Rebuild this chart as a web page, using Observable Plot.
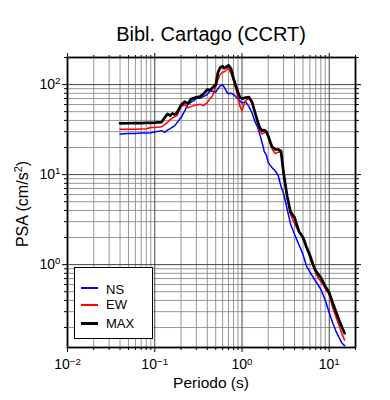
<!DOCTYPE html>
<html>
<head>
<meta charset="utf-8">
<script src="https://cdn.jsdelivr.net/npm/d3@7"></script>
<script src="https://cdn.jsdelivr.net/npm/@observablehq/plot@0.6"></script>
<style>
  body { margin: 0; background: #fff; font-family: 'Liberation Sans', Arial, Helvetica, sans-serif; color: #000; }
  #wrap { position: relative; width: 390px; height: 400px; overflow: hidden; background: #fff; }
  #title { position: absolute; left: 67px; width: 288px; top: 24px; text-align: center; font-size: 20px; line-height: 20px; white-space: nowrap; }
  #chart { position: absolute; left: 0; top: 50px; }
  #xlabel { position: absolute; left: 67px; width: 288px; top: 375px; text-align: center; font-size: 15.5px; line-height: 15.5px; white-space: nowrap; }
  #ylabel { position: absolute; left: -122px; width: 290px; top: 196px; height: 16px; text-align: center; font-size: 16px; line-height: 16px; white-space: nowrap; transform: rotate(-90deg); transform-origin: 50% 50%; }
  #ylabel sup { font-size: 0.68em; line-height: 0; vertical-align: 0.55em; }
  #legend { position: absolute; left: 74px; top: 267px; width: 79px; height: 72px; box-sizing: border-box; border: 1.6px solid #000; background: #fff; }
  .lg-line { position: absolute; left: 6px; width: 17px; }
  .lg-text { position: absolute; left: 31px; font-size: 13px; line-height: 13px; white-space: nowrap; }
</style>
</head>
<body>
<div id="wrap">
  <div id="title"></div>
  <div id="chart"></div>
  <div id="xlabel"></div>
  <div id="ylabel"></div>
  <div id="legend"></div>
</div>
<script>
// ---- Data ----
const titleText = "Bibl. Cartago (CCRT)";
const xLabelText = "Periodo (s)";
const yLabelBase = "PSA (cm/s";
const yLabelSup = "2";
const yLabelEnd = ")";

const periods = [0.04, 0.05, 0.06, 0.07, 0.08, 0.09, 0.1, 0.12, 0.13, 0.14, 0.15, 0.16, 0.17, 0.18,
  0.2, 0.22, 0.24, 0.26, 0.28, 0.3, 0.33, 0.36, 0.4, 0.43, 0.46, 0.5, 0.53, 0.56, 0.6, 0.63, 0.67,
  0.7, 0.75, 0.8, 0.85, 0.9, 0.95, 1.0, 1.1, 1.2, 1.3, 1.4, 1.5, 1.6, 1.7, 1.8, 1.9, 2.0, 2.2, 2.4,
  2.6, 2.8, 3.0, 3.3, 3.6, 4.0, 4.5, 5.0, 5.5, 6.0, 6.5, 7.0, 7.5, 8.0, 9.0, 10, 11, 12, 13, 14, 15];

const psaNS = [28.3, 28.6, 28.7, 28.9, 29.0, 29.1, 29.7, 30.8, 29.5, 31.2, 32.4, 33.7, 35.0, 37.8,
  43.0, 50.7, 60.2, 63.8, 66.3, 70.7, 70.7, 73.4, 77.3, 85.6, 84.5, 82.4, 90.1, 96.0, 99.7, 92.4, 82.4,
  79.3, 80.3, 77.3, 73.4, 68.9, 65.5, 62.5, 64.6, 56.9, 48.8, 39.3, 34.1, 27.8, 22.7, 18.0, 16.5, 13.6, 12.0, 11.0,
  9.77, 7.38, 6.17, 4.10, 2.83, 2.17, 1.66, 1.30, 0.958, 0.828, 0.729, 0.653, 0.590, 0.532, 0.402, 0.292, 0.223, 0.180, 0.154, 0.134, 0.126];

const psaEW = [31.9, 31.9, 32.0, 32.2, 32.4, 33.4, 33.3, 34.1, 35.9, 38.1, 40.8, 42.6, 44.1, 45.2,
  56.9, 59.9, 55.4, 56.9, 58.4, 59.4, 60.6, 58.4, 63.0, 69.8, 75.3, 94.8, 113.3, 128.8, 137.3, 139.0, 146.3,
  152.0, 132.1, 110.5, 90.1, 71.6, 56.9, 51.4, 66.3, 70.3, 62.2, 50.1, 38.8, 30.1, 28.2, 29.3, 29.3, 25.8, 19.5, 17.1,
  17.8, 17.6, 10.3, 5.57, 3.61, 2.87, 2.28, 1.98, 1.52, 1.22, 0.970, 0.811, 0.705, 0.653, 0.546, 0.463, 0.328, 0.260, 0.210, 0.169, 0.145];

const psaMAX = [37.1, 37.2, 37.3, 37.4, 37.5, 37.6, 37.8, 38.3, 43.0, 47.2, 45.2, 47.9, 46.4, 48.8,
  59.1, 64.6, 61.4, 69.2, 70.7, 72.1, 73.4, 78.3, 87.8, 86.7, 92.4, 99.7, 135.5, 154.0, 160.0, 152.0, 157.9,
  164.1, 150.1, 116.3, 97.2, 82.4, 71.6, 69.8, 71.6, 72.5, 64.6, 50.1, 39.8, 33.3, 30.8, 31.2, 30.1, 26.8, 20.5, 19.1,
  19.0, 18.3, 10.3, 5.72, 3.85, 3.35, 2.34, 2.01, 1.56, 1.27, 1.01, 0.854, 0.781, 0.723, 0.575, 0.487, 0.372, 0.296, 0.241, 0.202, 0.173];

const seriesNames = ["NS", "EW", "MAX"];
const seriesColors = ["#0000ff", "#ff0000", "#000000"];
const seriesWidths = [1.5, 1.5, 2.7];

const xDomain = [0.01, 20];
const yDomain = [0.12, 200];
const xMajor = [0.01, 0.1, 1, 10];
const xTickExp = ["−2", "−1", "0", "1"];
const yMajor = [1, 10, 100];
const yTickExp = ["0", "1", "2"];

// ---- Build tables ----
const seriesValues = [psaNS, psaEW, psaMAX];
const rows = [];
seriesNames.forEach((name, s) => {
  periods.forEach((T, i) => rows.push({ series: name, T, psa: seriesValues[s][i] }));
});

function minorTicks(domain) {
  const out = [];
  const lo = Math.floor(Math.log10(domain[0])), hi = Math.ceil(Math.log10(domain[1]));
  for (let e = lo; e <= hi; e++) {
    for (let k = 1; k <= 9; k++) {
      const v = +(k * Math.pow(10, e)).toPrecision(6);
      if (v >= domain[0] * 0.9999 && v <= domain[1] * 1.0001) out.push(v);
    }
  }
  return out;
}
const xAll = minorTicks(xDomain);
const yAll = minorTicks(yDomain);
const isMajor = v => Math.abs(Math.log10(v) - Math.round(Math.log10(v))) < 1e-9;
const xMinor = xAll.filter(v => !isMajor(v));
const yMinor = yAll.filter(v => !isMajor(v));
const xLab = new Map(xMajor.map((v, i) => [v, "10^" + xTickExp[i]]));
const yLab = new Map(yMajor.map((v, i) => [v, "10^" + yTickExp[i]]));

const chart = Plot.plot({
  width: 390,
  height: 350,
  marginTop: 7,
  marginBottom: 53,
  marginLeft: 67,
  marginRight: 35,
  style: { fontFamily: "'Liberation Sans', Arial, Helvetica, sans-serif", fontSize: "14px", color: "#000", background: "#fff", overflow: "visible" },
  x: { type: "log", domain: xDomain },
  y: { type: "log", domain: yDomain },
  color: { domain: seriesNames, range: seriesColors },
  marks: [
    Plot.ruleX(xMinor, { stroke: "#8a8a8a", strokeWidth: 0.9 }),
    Plot.ruleY(yMinor, { stroke: "#8a8a8a", strokeWidth: 0.9 }),
    Plot.ruleX(xMajor, { stroke: "#444", strokeWidth: 1 }),
    Plot.ruleY(yMajor, { stroke: "#444", strokeWidth: 1 }),
    ...seriesNames.map((name, s) =>
      Plot.line(rows.filter(d => d.series === name), {
        x: "T", y: "psa", stroke: seriesColors[s], strokeWidth: seriesWidths[s],
        strokeLinejoin: "round", strokeLinecap: "round"
      })
    ),
    Plot.frame({ stroke: "#000", strokeWidth: 1.8 }),
    // bottom axis
    Plot.axisX({ anchor: "bottom", ticks: xMinor, tickSize: 3, tickFormat: () => "", label: null }),
    Plot.axisX({ anchor: "bottom", ticks: xMajor, tickSize: 5, tickPadding: 7, tickFormat: d => xLab.get(d), label: null }),
    // top axis
    Plot.axisX({ anchor: "top", ticks: xMinor, tickSize: 3, tickFormat: () => "", label: null }),
    Plot.axisX({ anchor: "top", ticks: xMajor, tickSize: 5, tickFormat: () => "", label: null }),
    // left axis
    Plot.axisY({ anchor: "left", ticks: yMinor, tickSize: 3, tickFormat: () => "", label: null }),
    Plot.axisY({ anchor: "left", ticks: yMajor, tickSize: 5, tickPadding: 2, tickFormat: d => yLab.get(d), label: null }),
    // right axis
    Plot.axisY({ anchor: "right", ticks: yMinor, tickSize: 3, tickFormat: () => "", label: null }),
    Plot.axisY({ anchor: "right", ticks: yMajor, tickSize: 5, tickFormat: () => "", label: null })
  ]
});

// Render "10^e" tick labels as base + raised, smaller exponent
d3.select(chart).selectAll("text").each(function () {
  const t = this.textContent;
  if (!t || t.indexOf("^") < 0) return;
  const [base, exp] = t.split("^");
  const sel = d3.select(this);
  sel.text(null);
  sel.append("tspan").text(base);
  sel.append("tspan").attr("font-size", "0.7em").attr("dy", "-0.5em").text(exp);
});
document.getElementById("chart").appendChild(chart);

document.getElementById("title").textContent = titleText;
document.getElementById("xlabel").textContent = xLabelText;
const yl = document.getElementById("ylabel");
yl.appendChild(document.createTextNode(yLabelBase));
const sup = document.createElement("sup");
sup.textContent = yLabelSup;
yl.appendChild(sup);
yl.appendChild(document.createTextNode(yLabelEnd));

// ---- Legend ----
const legend = document.getElementById("legend");
const lineTops = [20, 37.5, 55.5];
const textTops = [14.5, 29.5, 48.5];
seriesNames.forEach((name, s) => {
  const ln = document.createElement("div");
  ln.className = "lg-line";
  ln.style.top = (lineTops[s] - seriesWidths[s] / 2 - 0.3) + "px";
  ln.style.height = (s === 2 ? 3 : 2) + "px";
  ln.style.background = seriesColors[s];
  legend.appendChild(ln);
  const tx = document.createElement("div");
  tx.className = "lg-text";
  tx.style.top = textTops[s] + "px";
  tx.textContent = name;
  legend.appendChild(tx);
});
</script>
</body>
</html>
